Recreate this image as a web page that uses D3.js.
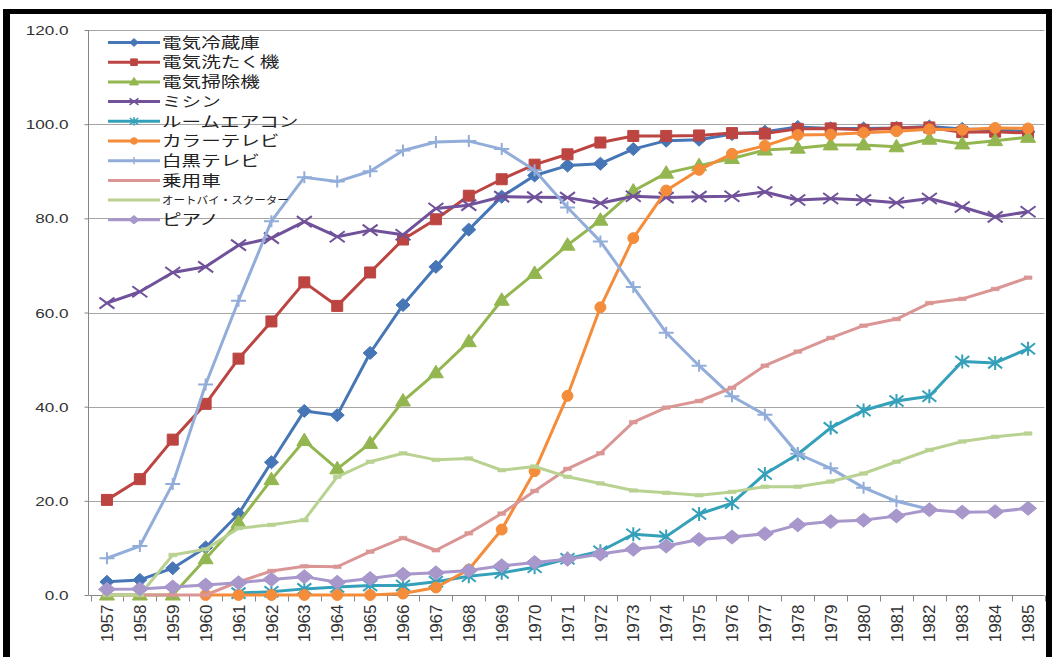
<!DOCTYPE html>
<html>
<head>
<meta charset="utf-8">
<script src="https://cdn.jsdelivr.net/npm/d3@7"></script>
<style>
  html, body { margin: 0; padding: 0; background: #fff; }
  svg { display: block; }
</style>
</head>
<body>
<svg id="chart" width="1054" height="657"></svg>
<script>
// Diffusion rate of consumer durables (%), 1957–1985
const years = d3.range(1957, 1986).map(String);
const yTicks = [0, 20, 40, 60, 80, 100, 120];

const seriesNames = ["電気冷蔵庫", "電気洗たく機", "電気掃除機", "ミシン", "ルームエアコン",
  "カラーテレビ", "白黒テレビ", "乗用車", "オートバイ・スクーター", "ピアノ"];

const refrigerator = [2.8, 3.2, 5.7, 10.1, 17.2, 28.2, 39.1, 38.2, 51.4, 61.6, 69.7, 77.6, 84.6, 89.1, 91.2, 91.6, 94.7, 96.5, 96.7, 97.9, 98.4, 99.4, 99.1, 99.1, 99.2, 99.5, 99.0, 98.8, 98.4];
const washer = [20.2, 24.6, 33.0, 40.6, 50.2, 58.1, 66.4, 61.4, 68.5, 75.5, 79.8, 84.8, 88.3, 91.4, 93.6, 96.1, 97.5, 97.5, 97.6, 98.1, 98.0, 99.0, 99.1, 98.8, 99.2, 99.3, 98.3, 98.4, 98.1];
const vacuum = [0, 0, 0, 7.7, 15.4, 24.5, 32.8, 26.8, 32.2, 41.2, 47.2, 53.8, 62.6, 68.3, 74.3, 79.6, 85.8, 89.6, 91.2, 92.7, 94.5, 94.9, 95.6, 95.6, 95.2, 96.8, 95.8, 96.5, 97.2];
const sewing = [62.0, 64.4, 68.5, 69.7, 74.3, 75.8, 79.3, 76.1, 77.5, 76.5, 82.1, 82.8, 84.6, 84.5, 84.4, 83.2, 84.7, 84.4, 84.6, 84.7, 85.6, 83.9, 84.2, 83.9, 83.3, 84.2, 82.4, 80.3, 81.4];
const aircon = [null, null, null, null, 0.4, 0.7, 1.3, 1.7, 2.0, 2.0, 2.8, 4.0, 4.7, 5.9, 7.7, 9.3, 12.9, 12.4, 17.2, 19.5, 25.7, 29.9, 35.5, 39.2, 41.2, 42.2, 49.6, 49.3, 52.3];
const colorTV = [null, null, null, 0, 0, 0, 0, 0, 0, 0.3, 1.6, 5.4, 13.9, 26.3, 42.3, 61.1, 75.8, 85.9, 90.3, 93.7, 95.4, 97.7, 97.8, 98.2, 98.5, 98.9, 98.8, 99.2, 99.1];
const monoTV = [7.8, 10.4, 23.6, 44.7, 62.5, 79.4, 88.7, 87.8, 90.0, 94.4, 96.2, 96.4, 94.7, 90.2, 82.3, 75.1, 65.4, 55.7, 48.7, 42.2, 38.3, 30.0, 26.9, 22.8, 19.9, 18.2, null, null, null];
const car = [0, 0, 0, 0, 2.8, 5.1, 6.1, 6.0, 9.2, 12.1, 9.5, 13.1, 17.3, 22.1, 26.8, 30.1, 36.7, 39.8, 41.2, 44.0, 48.7, 51.7, 54.6, 57.2, 58.6, 62.0, 62.9, 65.0, 67.4];
const motorbike = [0, 0, 8.5, 9.7, 14.2, 14.9, 15.9, 25.1, 28.3, 30.1, 28.7, 29.0, 26.5, 27.3, 25.1, 23.7, 22.2, 21.7, 21.2, 21.9, 23.0, 23.0, 24.1, 25.8, 28.3, 30.8, 32.6, 33.6, 34.3];
const piano = [1.2, 1.3, 1.7, 2.1, 2.6, 3.3, 3.9, 2.7, 3.5, 4.4, 4.7, 5.2, 6.2, 6.9, 7.6, 8.7, 9.7, 10.4, 11.8, 12.3, 13.0, 14.9, 15.6, 15.9, 16.8, 18.1, 17.6, 17.7, 18.4];

const seriesValues = [refrigerator, washer, vacuum, sewing, aircon, colorTV, monoTV, car, motorbike, piano];
const seriesColors = ["#4676B6", "#BC4542", "#93B651", "#70519A", "#34A0BA",
  "#F48C3A", "#92ADD9", "#DA9694", "#B9D292", "#A897CB"];
const seriesMarkers = ["diamond", "square", "triangle", "x", "star", "circle", "plus", "dash", "dash", "diamondL"];

const svg = d3.select("#chart");
const latin = "'Liberation Sans', Arial, sans-serif";
const cjk = "'Noto Sans CJK JP', sans-serif";

const x = d3.scaleBand().domain(years).range([90.5, 1044.5]);
const y = d3.scaleLinear().domain([0, 120]).range([595, 30]);
const cx = d => x(d) + x.bandwidth() / 2;

// outer frame
svg.append("rect").attr("x", 0).attr("y", 0).attr("width", 1054).attr("height", 657).attr("fill", "#fff");
svg.append("rect").attr("x", 3).attr("y", 9).attr("width", 7).attr("height", 648).attr("fill", "#000");
svg.append("rect").attr("x", 3).attr("y", 9).attr("width", 1049).attr("height", 5).attr("fill", "#000");
svg.append("rect").attr("x", 1046).attr("y", 9).attr("width", 6).attr("height", 648).attr("fill", "#000");

// gridlines
svg.append("g").selectAll("line").data(yTicks.filter(t => t > 0)).join("line")
  .attr("x1", 89).attr("x2", 1044.5)
  .attr("y1", d => Math.round(y(d)) + 0.5).attr("y2", d => Math.round(y(d)) + 0.5)
  .attr("stroke", "#A6A6A6").attr("stroke-width", 1);

// y axis
const yAxis = svg.append("g").attr("transform", "translate(88.5,0)")
  .call(d3.axisLeft(y).tickValues(yTicks).tickSize(4).tickFormat(d3.format(".1f")));
yAxis.select(".domain").attr("stroke", "#868686").attr("d", `M0,${y(120)}V${y(0)}`);
yAxis.selectAll(".tick line").attr("stroke", "#868686");
yAxis.selectAll(".tick text").remove();
yAxis.selectAll(".tick").append("text")
  .attr("transform", "translate(-20,0) scale(1.37,1)")
  .attr("text-anchor", "end").attr("dy", "0.36em")
  .attr("fill", "#333").style("font-family", latin).style("font-size", "12.5px")
  .text(d => d3.format(".1f")(d));

// x axis
const xAxis = svg.append("g").attr("transform", `translate(0,${y(0) + 0.5})`)
  .call(d3.axisBottom(x).tickSize(0).tickPadding(0));
xAxis.select(".domain").attr("stroke", "#868686").attr("d", `M88.5,0H1044.5`);
xAxis.selectAll(".tick text").remove();
xAxis.selectAll(".tick").append("text")
  .attr("transform", "translate(0,9) rotate(-90)")
  .attr("text-anchor", "end").attr("dy", "0.36em")
  .attr("fill", "#333").style("font-family", latin).style("font-size", "17px")
  .text(d => d);
// category boundary ticks
const bounds = years.map(d => x(d)).concat([x(years[years.length - 1]) + x.bandwidth()]);
xAxis.append("g").selectAll("line").data(bounds).join("line")
  .attr("x1", d => Math.round(d) + 0.5).attr("x2", d => Math.round(d) + 0.5)
  .attr("y1", 0).attr("y2", 6).attr("stroke", "#868686");

// marker paths
function markerPath(kind, s) {
  switch (kind) {
    case "diamond": return `M0,${-6.5 * s}L${7 * s},0L0,${6.5 * s}L${-7 * s},0Z`;
    case "diamondL": return `M0,${-7 * s}L${8.5 * s},0L0,${7 * s}L${-8.5 * s},0Z`;
    case "square": return `M${-5.5 * s},${-5.5 * s}h${11 * s}v${11 * s}h${-11 * s}Z`;
    case "triangle": return `M0,${-7.5 * s}L${7.5 * s},${5 * s}L${-7.5 * s},${5 * s}Z`;
    case "x": return `M${-7.5 * s},${-5.5 * s}L${7.5 * s},${5.5 * s}M${-7.5 * s},${5.5 * s}L${7.5 * s},${-5.5 * s}`;
    case "star": return `M${-7 * s},${-5.5 * s}L${7 * s},${5.5 * s}M${-7 * s},${5.5 * s}L${7 * s},${-5.5 * s}M0,${-7 * s}V${7 * s}`;
    case "plus": return `M${-7.5 * s},0H${7.5 * s}M0,${-6 * s}V${6 * s}`;
    case "dash": return `M${-4 * s},${-1.8 * s}h${8 * s}v${3.6 * s}h${-8 * s}Z`;
    case "circle": return d3.symbol(d3.symbolCircle, Math.PI * 30 * s * s)();
  }
}
const stroked = k => k === "x" || k === "star" || k === "plus";

// series lines and markers
const line = d3.line().defined(d => d.v !== null).x(d => cx(d.year)).y(d => y(d.v));
const plot = svg.append("g");
seriesValues.forEach((vals, i) => {
  const pts = years.map((year, j) => ({ year, v: vals[j] }));
  const g = plot.append("g");
  g.append("path").datum(pts).attr("d", line)
    .attr("fill", "none").attr("stroke", seriesColors[i]).attr("stroke-width", 3)
    .attr("stroke-linejoin", "round");
  const kind = seriesMarkers[i];
  g.selectAll("path.m").data(pts.filter(p => p.v !== null)).join("path").attr("class", "m")
    .attr("transform", p => `translate(${cx(p.year)},${y(p.v)})`)
    .attr("d", markerPath(kind, 1))
    .attr("fill", stroked(kind) ? "none" : seriesColors[i])
    .attr("stroke", seriesColors[i])
    .attr("stroke-width", stroked(kind) ? 2 : (kind === "dash" ? 0.5 : 1));
});

// legend
const legend = svg.append("g");
seriesNames.forEach((name, i) => {
  const ly = 42.5 + i * 19.7;
  const row = legend.append("g").attr("transform", `translate(0,${ly})`);
  row.append("line").attr("x1", 108).attr("x2", 160).attr("y1", 0).attr("y2", 0)
    .attr("stroke", seriesColors[i]).attr("stroke-width", 3);
  const kind = seriesMarkers[i];
  if (kind !== "dash") {
    row.append("path").attr("transform", "translate(134,0)")
      .attr("d", markerPath(kind, 0.6))
      .attr("fill", stroked(kind) ? "none" : seriesColors[i])
      .attr("stroke", seriesColors[i]).attr("stroke-width", stroked(kind) ? 1.5 : 1);
  }
  const small = name.length > 8;
  row.append("text")
    .attr("transform", `translate(162,0) scale(${small ? 1.1 : 1.35},1)`)
    .attr("dy", "0.36em")
    .attr("fill", "#222").style("font-family", cjk)
    .style("font-size", small ? "10.5px" : "14.5px")
    .text(name);
});
</script>
</body>
</html>
